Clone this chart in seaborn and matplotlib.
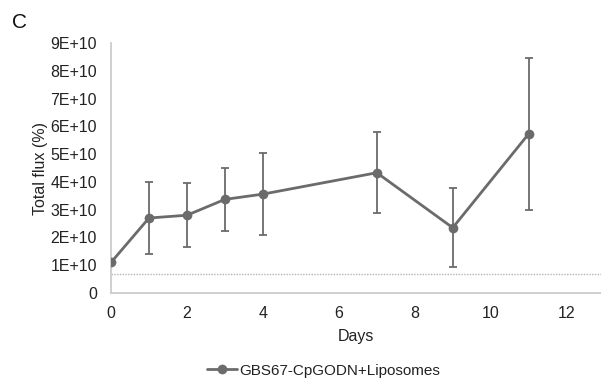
import matplotlib
matplotlib.use("Agg")
import matplotlib.pyplot as plt
from matplotlib.lines import Line2D
import seaborn as sns
import pandas as pd

days = [0, 1, 2, 3, 4, 7, 9, 11]
flux = [1.1e10, 2.7e10, 2.8e10, 3.37e10, 3.56e10, 4.33e10, 2.35e10, 5.73e10]
sd = [0.0, 1.3e10, 1.15e10, 1.12e10, 1.47e10, 1.45e10, 1.42e10, 2.74e10]
baseline = 0.68e10
series_name = "GBS67-CpGODN+Liposomes"
yticks = [0, 1e10, 2e10, 3e10, 4e10, 5e10, 6e10, 7e10, 8e10, 9e10]
ytick_labels = ["0"] + ["%dE+10" % i for i in range(1, 10)]

sns.set_style("white")
plt.rcParams['font.family'] = ['Liberation Sans', 'DejaVu Sans']

df = pd.DataFrame({"Days": days, "flux": flux, "sd": sd})
grey = "#6b6b6b"
fs = 11.5

fig = plt.figure(figsize=(6.01, 3.79), dpi=100)
ax = fig.add_axes([0.1847, 0.2269, 0.815, 0.6596])

ax.axhline(baseline, color="#b5b5b5", lw=1, ls=(0, (1, 1)), zorder=1)
ax.errorbar(df["Days"], df["flux"], yerr=df["sd"], fmt="none", ecolor=grey,
            elinewidth=1.3, capsize=3, capthick=1.3, zorder=2)
sns.lineplot(data=df, x="Days", y="flux", color=grey, marker="o", markersize=7,
             markeredgewidth=0, linewidth=2, ax=ax, legend=False, zorder=3)

ax.set_xlim(0, 12.9)
ax.set_ylim(0, 9e10)
ax.set_xticks([0, 2, 4, 6, 8, 10, 12])
ax.set_yticks(yticks)
ax.set_yticklabels(ytick_labels)
ax.tick_params(labelsize=fs, colors="#222222", length=0)
ax.tick_params(axis="y", pad=10)
ax.tick_params(axis="x", pad=9)
ax.set_xlabel("Days", fontsize=fs, color="#222222", labelpad=6)
ax.set_ylabel("Total flux (%)", fontsize=fs, color="#222222", labelpad=1.5)
for side in ["top", "right"]:
    ax.spines[side].set_visible(False)
for side in ["left", "bottom"]:
    ax.spines[side].set_color("#cccccc")
    ax.spines[side].set_linewidth(1.3)

handle = Line2D([], [], color=grey, marker="o", markersize=7, markeredgewidth=0, linewidth=2)
fig.legend([handle], [series_name], loc="center", bbox_to_anchor=(0.538, 0.022),
           frameon=False, fontsize=11, handlelength=2.0, handletextpad=0.1,
           labelcolor="#222222", borderpad=0)
fig.text(0.02, 0.925, "C", fontsize=15, color="#111111")

fig.savefig("out.png", dpi=100)
